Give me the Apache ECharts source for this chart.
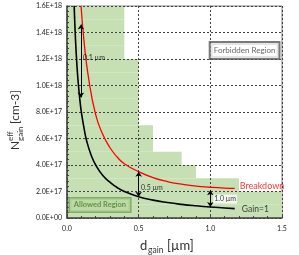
<!DOCTYPE html>
<html><head><meta charset="utf-8">
<script src="https://cdn.jsdelivr.net/npm/echarts@6/dist/echarts.min.js"></script>
<style>html,body{margin:0;padding:0;background:#fff}#c{width:299px;height:255px}</style>
</head><body><div id="c"></div>
<script>
// Gain=1 curve (d in µm, N in cm-3)
const gainD = [0.05,0.06,0.07,0.08,0.09,0.1,0.12,0.14,0.17,0.2,0.25,0.3,0.35,0.4,0.5,0.6,0.7,0.8,0.9,1.0,1.1,1.17];
const gainN = [1.6e18,1.33e18,1.14e18,1.0e18,0.89e18,0.8e18,0.67e18,0.57e18,0.47e18,0.40e18,0.32e18,0.27e18,0.23e18,0.20e18,0.16e18,0.135e18,0.117e18,0.103e18,0.092e18,0.083e18,0.076e18,0.071e18];
// Breakdown curve
const bdD = [0.098,0.12,0.15,0.2,0.25,0.3,0.35,0.4,0.5,0.6,0.7,0.8,0.9,1.0,1.1,1.17];
const bdN = [1.6e18,1.32e18,1.06e18,0.78e18,0.63e18,0.53e18,0.46e18,0.41e18,0.35e18,0.305e18,0.275e18,0.255e18,0.24e18,0.232e18,0.226e18,0.224e18];
// Allowed (green) region: for each N row, extent in d
const rowLow  = [0,0.1e18,0.2e18,0.3e18,0.4e18,0.5e18,0.6e18,0.7e18,0.8e18,0.9e18,1.0e18,1.1e18,1.2e18,1.3e18,1.4e18,1.5e18];
const rowExt  = [1.5,1.5,1.2,0.9,0.8,0.6,0.6,0.5,0.5,0.5,0.5,0.5,0.4,0.4,0.4,0.4];
const rowH = 0.1e18;
// Thickness arrows
const arrowD = [0.097,0.5,1.0];
const arrowTop = [1.46e18,0.35e18,0.21e18];
const arrowBot = [0.91e18,0.16e18,0.083e18];
const xTicks = ['0.0','0.5','1.0','1.5'];

function fmtY(v){
  if (v < 1e10) return '0.0E+00';
  const e = Math.floor(Math.log10(v) + 1e-9);
  const m = v / Math.pow(10, e);
  return m.toFixed(1) + 'E+' + e;
}
const FONT = 'Lato';
const chart = echarts.init(document.getElementById('c'));
const green = '#c6e0b4';
chart.setOption({
  animation: false,
  grid: {left: 67, right: 17, top: 6, bottom: 37, show: true, borderColor: '#7f7f7f', borderWidth: 1},
  xAxis: {type: 'value', min: 0, max: 1.5, interval: 0.5, z: 3,
    axisLine: {lineStyle: {color: '#404040', width: 1.5}},
    axisTick: {inside: true, length: 3, lineStyle: {color: '#404040'}},
    minorTick: {show: true, splitNumber: 5, length: 2, lineStyle: {color: '#404040'}},
    splitLine: {show: true, lineStyle: {color: '#404040', type: [2, 2], width: 1}},
    axisLabel: {fontSize: 7, color: '#222', fontFamily: FONT, margin: 7,
      formatter: v => xTicks[Math.round(v / 0.5)]}
  },
  yAxis: {type: 'value', min: 0, max: 1.6e18, interval: 0.2e18, z: 3,
    axisLine: {show: true, lineStyle: {color: '#404040', width: 1.5}},
    axisTick: {show: true, inside: true, length: 3, lineStyle: {color: '#404040'}},
    minorTick: {show: true, splitNumber: 5, length: 2, lineStyle: {color: '#404040'}},
    splitLine: {show: true, lineStyle: {color: '#404040', type: [2, 2], width: 1}},
    axisLabel: {fontSize: 7, color: '#222', fontFamily: FONT, margin: 5, formatter: fmtY}
  },
  graphic: [
    {type: 'group', x: 21, y: 150, rotation: Math.PI / 2, children: [
      {type: 'text', x: 0, y: 0, style: {text: 'N', fontSize: 12, fontFamily: FONT, fill: '#333', verticalAlign: 'bottom'}},
      {type: 'text', x: 9, y: -7, style: {text: 'eff', fontSize: 8, fontFamily: FONT, fill: '#333', verticalAlign: 'bottom'}},
      {type: 'text', x: 9, y: 3, style: {text: 'gain', fontSize: 8, fontFamily: FONT, fill: '#333', verticalAlign: 'bottom'}},
      {type: 'text', x: 26, y: 0, style: {text: '[cm-3]', fontSize: 12, fontFamily: FONT, fill: '#333', verticalAlign: 'bottom'}}
    ]},
    {type: 'group', x: 140, y: 252, children: [
      {type: 'text', x: 0, y: 0, style: {text: 'd', fontSize: 13, fontFamily: FONT, fill: '#333', verticalAlign: 'bottom'}},
      {type: 'text', x: 8, y: 3, style: {text: 'gain', fontSize: 8.5, fontFamily: FONT, fill: '#333', verticalAlign: 'bottom'}},
      {type: 'text', x: 27, y: 0, style: {text: '[µm]', fontSize: 13, fontFamily: FONT, fill: '#333', verticalAlign: 'bottom'}}
    ]}
  ],
  series: [
    {type: 'custom', z: 1, silent: true,
      data: rowLow.map((l, i) => [rowExt[i], l, l + rowH]),
      renderItem: (params, api) => {
        const p1 = api.coord([0, api.value(2)]);
        const p2 = api.coord([api.value(0), api.value(1)]);
        return {type: 'rect', shape: {x: p1[0], y: p1[1], width: p2[0] - p1[0], height: p2[1] - p1[1]},
          style: {fill: green}};
      }
    },
    {type: 'line', z: 5, showSymbol: false, smooth: true, data: gainD.map((d, i) => [d, gainN[i]]),
      lineStyle: {color: '#000', width: 1.6}},
    {type: 'line', z: 5, showSymbol: false, smooth: true, data: bdD.map((d, i) => [d, bdN[i]]),
      lineStyle: {color: '#ff0000', width: 1.3}},
    {type: 'lines', coordinateSystem: 'cartesian2d', z: 6, symbol: ['arrow', 'arrow'], symbolSize: 5,
      lineStyle: {color: '#000', width: 1, opacity: 1},
      data: arrowD.map((d, i) => ({coords: [[d, arrowTop[i]], [d, arrowBot[i]]]}))
    },
    {type: 'scatter', z: 7, symbolSize: 0, silent: true,
      label: {show: true, fontFamily: FONT},
      data: [
        {value: [0.112, 1.208e18], label: {formatter: '0.1 µm', position: 'right', distance: 0, fontSize: 7, color: '#000'}},
        {value: [0.516, 0.23e18], label: {formatter: '0.5 µm', position: 'right', distance: 0, fontSize: 7, color: '#000'}},
        {value: [1.02, 0.143e18], label: {formatter: '1.0 µm', position: 'right', distance: 0, fontSize: 7, color: '#000', backgroundColor: '#fff', padding: [1, 1]}},
        {value: [1.205, 0.241e18], label: {formatter: 'Breakdown', position: 'right', distance: 0, fontSize: 9, color: '#ff0000'}},
        {value: [1.22, 0.068e18], label: {formatter: 'Gain=1', position: 'right', distance: 0, fontSize: 8.5, color: '#111'}},
        {value: [1.239, 1.264e18], label: {formatter: 'Forbidden Region', position: 'inside', fontSize: 8, color: '#404040', backgroundColor: '#fff', borderColor: '#595959', borderWidth: 2, padding: [4, 3, 3, 3]}},
        {value: [0.23, 0.098e18], label: {formatter: 'Allowed Region', position: 'inside', fontSize: 7.5, fontWeight: 'bold', color: '#4e7d31', backgroundColor: '#b9d8a3', borderColor: '#70a050', borderWidth: 1.5, padding: [3, 4, 2, 4]}}
      ]
    }
  ]
});
</script></body></html>
